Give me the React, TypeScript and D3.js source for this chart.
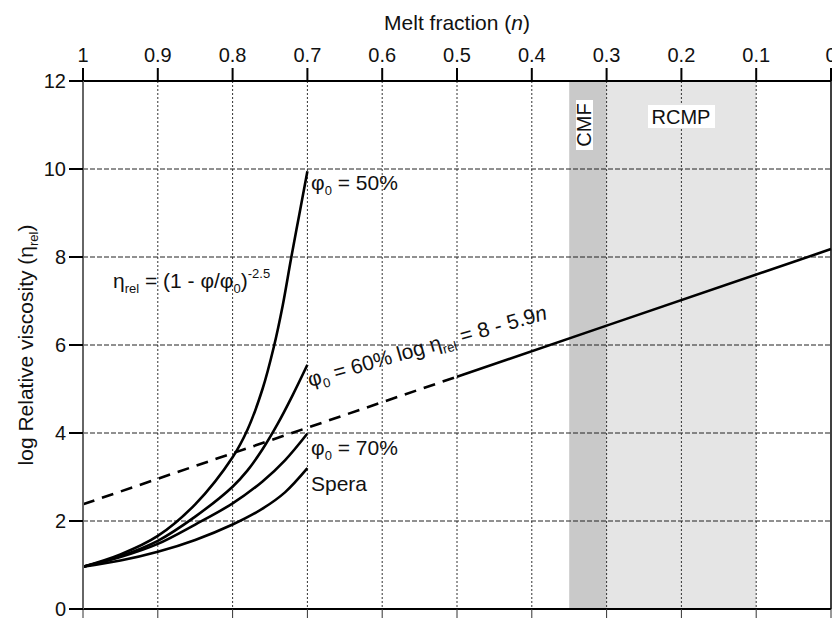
import React from "react";
import * as d3 from "d3";

// melt fraction (n) on the top axis, log relative viscosity on the left
const meltTicks = [1, 0.9, 0.8, 0.7, 0.6, 0.5, 0.4, 0.3, 0.2, 0.1, 0];
const viscTicks = [0, 2, 4, 6, 8, 10, 12];

// Einstein-Roscoe curves, [n, log eta_rel]
const phi50: [number, number][] = [
  [1, 0.96], [0.95, 1.24], [0.9, 1.66], [0.85, 2.38], [0.8, 3.45], [0.78, 4.08], [0.76, 5.0],
  [0.745, 5.95], [0.733, 6.9], [0.722, 7.95], [0.711, 8.95], [0.7, 9.95],
];
const phi60: [number, number][] = [
  [1, 0.96], [0.95, 1.2], [0.9, 1.55], [0.85, 2.1], [0.8, 2.78], [0.78, 3.15],
  [0.76, 3.63], [0.74, 4.2], [0.72, 4.85], [0.7, 5.55],
];
const phi70: [number, number][] = [
  [1, 0.96], [0.95, 1.18], [0.9, 1.48], [0.85, 1.92], [0.8, 2.4], [0.76, 2.9], [0.73, 3.38], [0.7, 3.99],
];
const spera: [number, number][] = [
  [1, 0.96], [0.95, 1.1], [0.9, 1.3], [0.85, 1.57], [0.8, 1.92], [0.76, 2.28], [0.73, 2.65], [0.7, 3.2],
];

// log eta_rel = 8 - 5.9n line: dashed part and solid part
const linearDashed: [number, number][] = [[1, 2.38], [0.5, 5.28]];
const linearSolid: [number, number][] = [[0.5, 5.28], [0.3, 6.44], [0, 8.18]];

// shaded bands
const cmfBand = [0.35, 0.3];
const rcmpBand = [0.3, 0.1];

const W = 832;
const H = 620;
const left = 83;
const right = 831;
const top = 81;
const bottom = 609;
const font = "'Liberation Sans', Arial, Helvetica, sans-serif";

export default function App() {
  const x = d3.scaleLinear().domain([1, 0]).range([left, right]);
  const y = d3.scaleLinear().domain([0, 12]).range([bottom, top]);

  const line = d3
    .line<[number, number]>()
    .x((d) => x(d[0]))
    .y((d) => y(d[1]))
    .curve(d3.curveCatmullRom.alpha(0.5));
  const straight = d3
    .line<[number, number]>()
    .x((d) => x(d[0]))
    .y((d) => y(d[1]));

  const curves = [phi50, phi60, phi70, spera];

  return (
    <svg
      width={W}
      height={H}
      style={{ position: "absolute", left: 0, top: 0, background: "#fff" }}
      fontFamily={font}
    >
      {/* shaded regions */}
      <rect x={x(rcmpBand[0])} y={top} width={x(rcmpBand[1]) - x(rcmpBand[0])} height={bottom - top} fill="#e5e5e5" />
      <rect x={x(cmfBand[0])} y={top} width={x(cmfBand[1]) - x(cmfBand[0])} height={bottom - top} fill="#c9c9c9" />

      {/* grid */}
      {meltTicks.slice(1, -1).map((t) => (
        <line key={"gx" + t} x1={x(t)} x2={x(t)} y1={top} y2={bottom} stroke="#333" strokeWidth={1} strokeDasharray="2,2" />
      ))}
      {viscTicks.slice(1, -1).map((t) => (
        <line key={"gy" + t} x1={left} x2={right} y1={y(t)} y2={y(t)} stroke="#222" strokeWidth={1} strokeDasharray="5,2" />
      ))}

      {/* band labels */}
      <rect x={576} y={100} width={17} height={50} fill="#fff" />
      <text transform={`translate(591,125) rotate(-90)`} textAnchor="middle" fontSize={20} fill="#111">CMF</text>
      <rect x={648} y={105} width={67} height={23} fill="#fff" />
      <text x={681} y={124} textAnchor="middle" fontSize={20} fill="#111">RCMP</text>

      {/* curves */}
      {curves.map((c, i) => (
        <path key={i} d={line(c) || ""} fill="none" stroke="#000" strokeWidth={2.6} />
      ))}
      <path d={straight(linearDashed) || ""} fill="none" stroke="#000" strokeWidth={2.6} strokeDasharray="12,8" />
      <path d={straight(linearSolid) || ""} fill="none" stroke="#000" strokeWidth={2.6} />

      {/* axes */}
      <line x1={left} x2={right} y1={top} y2={top} stroke="#000" strokeWidth={2} />
      <line x1={left} x2={right} y1={bottom} y2={bottom} stroke="#000" strokeWidth={2} />
      <line x1={right} x2={right} y1={top} y2={bottom} stroke="#000" strokeWidth={1.5} />
      <line x1={left} x2={left} y1={70} y2={bottom} stroke="#666" strokeWidth={2} />
      {meltTicks.map((t) => (
        <g key={"tx" + t}>
          <line x1={x(t)} x2={x(t)} y1={top - 13} y2={top} stroke="#000" strokeWidth={2} />
          <line x1={x(t)} x2={x(t)} y1={bottom} y2={bottom + 9} stroke="#333" strokeWidth={1} />
          <text x={x(t)} y={62} textAnchor="middle" fontSize={20} fill="#111">
            {t}
          </text>
        </g>
      ))}
      {viscTicks.map((t) => (
        <g key={"ty" + t}>
          <line x1={left - 14} x2={left} y1={y(t)} y2={y(t)} stroke="#000" strokeWidth={2} />
          <text x={66} y={y(t)} dy="0.35em" textAnchor="end" fontSize={20} fill="#111">
            {t}
          </text>
        </g>
      ))}

      {/* axis titles */}
      <text x={x(0.5)} y={30} textAnchor="middle" fontSize={21} fill="#111">
        Melt fraction (<tspan fontStyle="italic">n</tspan>)
      </text>
      <text transform={`translate(33,${(top + bottom) / 2}) rotate(-90)`} textAnchor="middle" fontSize={21} fill="#111">
        log Relative viscosity (η<tspan fontSize={13} dy={5}>rel</tspan>
        <tspan dy={-5}>)</tspan>
      </text>

      {/* annotations */}
      <text x={311} y={190} fontSize={21} fill="#111">
        φ<tspan fontSize={13} dy={5}>0</tspan>
        <tspan dy={-5}> = 50%</tspan>
      </text>
      <text x={113} y={288} fontSize={21} fill="#111">
        η<tspan fontSize={13} dy={5}>rel</tspan>
        <tspan dy={-5}> = (1 - φ/φ</tspan>
        <tspan fontSize={13} dy={5}>0</tspan>
        <tspan dy={-5}>)</tspan>
        <tspan fontSize={13} dy={-10}>-2.5</tspan>
      </text>
      <text transform="translate(310,387) rotate(-16)" fontSize={21} fill="#111">
        φ<tspan fontSize={13} dy={5}>0</tspan>
        <tspan dy={-5}> = 60% log η</tspan>
        <tspan fontSize={13} dy={5}>rel</tspan>
        <tspan dy={-5}> = 8 - 5.9</tspan>
        <tspan fontStyle="italic">n</tspan>
      </text>
      <text x={311} y={455} fontSize={21} fill="#111">
        φ<tspan fontSize={13} dy={5}>0</tspan>
        <tspan dy={-5}> = 70%</tspan>
      </text>
      <text x={311} y={491} fontSize={21} fill="#111">Spera</text>
    </svg>
  );
}
